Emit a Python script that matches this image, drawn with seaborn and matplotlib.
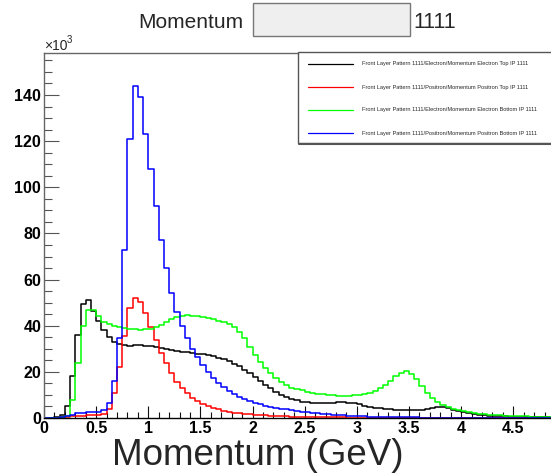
import numpy as np
import pandas as pd
import matplotlib
matplotlib.use("Agg")
import matplotlib.pyplot as plt
import matplotlib.patches as mpatches
from matplotlib.lines import Line2D
from matplotlib.ticker import MultipleLocator, FuncFormatter
import seaborn as sns

# ---------------- data (counts in units of 10^3, bins of 0.05 GeV from 0 to 5) -------------
bin_edges = [round(0.05 * i, 3) for i in range(101)]

electron_top = [
    0, 0, 0.3, 1.3, 5, 18, 36, 49.5, 51, 46.5,
    42, 38, 35, 33, 32, 31.5, 31.3, 31.5, 31.6, 31.4,
    31.1, 30.7, 30.2, 29.7, 29.3, 29.0, 28.7, 28.5, 28.2, 27.9,
    27.6, 27.2, 26.8, 26.2, 25.4, 24.6, 23.6, 22.4, 21.0, 19.5,
    17.8, 16.0, 14.4, 12.8, 11.3, 10.0, 9.0, 8.2, 7.6, 7.1,
    6.8, 6.6, 6.5, 6.4, 6.5, 6.6, 6.8, 6.8, 6.6, 6.3,
    5.9, 5.4, 4.9, 4.5, 4.2, 3.9, 3.7, 3.5, 3.4, 3.3,
    3.3, 3.4, 3.6, 4.0, 4.4, 4.8, 4.7, 4.2, 3.5, 2.9,
    2.4, 2.0, 1.7, 1.4, 1.2, 1.0, 0.9, 0.8, 0.7, 0.6,
    0.5, 0.45, 0.4, 0.35, 0.3, 0.3, 0.25, 0.2, 0.2, 0.15,
]

positron_top = [
    0, 0, 0.1, 0.3, 0.5, 0.7, 0.9, 1.0, 1.1, 1.2,
    1.4, 1.8, 4.0, 10.7, 22, 35.5, 47.5, 52.2, 50.4, 45.4,
    39.3, 33.8, 28, 23.7, 19.4, 15.8, 13.2, 11, 8.8, 7.4,
    6.1, 5.2, 4.3, 3.7, 3.1, 2.7, 2.3, 2.0, 1.8, 1.6,
    1.4, 1.3, 1.15, 1.0, 0.9, 0.8, 0.7, 0.62, 0.55, 0.5,
    0.45, 0.4, 0.37, 0.34, 0.3, 0.28, 0.25, 0.23, 0.21, 0.19,
    0.17, 0.15, 0.14, 0.13, 0.12, 0.11, 0.1, 0.1, 0.09, 0.09,
    0.08, 0.08, 0.07, 0.07, 0.06, 0.06, 0.05, 0.05, 0.05, 0.04,
    0.04, 0.04, 0.03, 0.03, 0.03, 0.03, 0.02, 0.02, 0.02, 0.02,
    0.02, 0.02, 0.02, 0.02, 0.02, 0.02, 0.02, 0.02, 0.02, 0.02,
]

electron_bottom = [
    0, 0, 0, 0.3, 1, 8, 24, 40, 47, 47,
    44, 41.8, 40.8, 39.9, 39.3, 39.0, 38.6, 38.4, 38.2, 38.4,
    38.7, 39.3, 40.3, 41.8, 42.8, 43.9, 44.4, 44.5, 44.4, 44.1,
    43.8, 43.3, 42.8, 42.2, 41.6, 40.8, 39.5, 37.4, 34.5, 30.9,
    27.3, 24.1, 21.5, 19.4, 17.2, 15.5, 14.3, 13.2, 12.5, 12.0,
    11.4, 11.0, 10.6, 10.3, 10.0, 9.8, 9.7, 9.7, 9.7, 9.8,
    10.0, 10.3, 10.8, 11.6, 12.8, 14.3, 16.2, 18.0, 19.6, 20.2,
    19.2, 16.8, 13.8, 11.0, 8.8, 7.0, 5.8, 4.8, 4.0, 3.4,
    2.9, 2.5, 2.1, 1.8, 1.6, 1.4, 1.2, 1.1, 1.0, 0.9,
    0.8, 0.75, 0.7, 0.65, 0.6, 0.55, 0.5, 0.5, 0.45, 0.4,
]

positron_bottom = [
    0, 0, 0.2, 0.5, 0.9, 1.4, 2.0, 2.3, 2.4, 2.5,
    2.8, 3.5, 6.5, 16, 34.5, 73, 121, 144, 139, 123,
    108, 92, 77, 65, 54, 46, 40, 34.5, 30, 26.5,
    23, 20, 17.5, 15.2, 13.4, 11.8, 10.4, 9.2, 8.2, 7.3,
    6.6, 6.0, 5.4, 4.9, 4.5, 4.1, 3.7, 3.4, 3.1, 2.8,
    2.5, 2.2, 2.0, 1.8, 1.6, 1.4, 1.25, 1.1, 1.0, 0.9,
    0.8, 0.7, 0.62, 0.55, 0.5, 0.45, 0.4, 0.36, 0.32, 0.29,
    0.26, 0.23, 0.21, 0.19, 0.17, 0.15, 0.14, 0.13, 0.12, 0.11,
    0.1, 0.09, 0.08, 0.08, 0.07, 0.07, 0.06, 0.06, 0.05, 0.05,
    0.05, 0.04, 0.04, 0.04, 0.03, 0.03, 0.03, 0.03, 0.03, 0.03,
]

series_labels = [
    "Front Layer Pattern 1111/Electron/Momentum Electron Top IP 1111",
    "Front Layer Pattern 1111/Positron/Momentum Positron Top IP 1111",
    "Front Layer Pattern 1111/Electron/Momentum Electron Bottom IP 1111",
    "Front Layer Pattern 1111/Positron/Momentum Positron Bottom IP 1111",
]
series_values = [electron_top, positron_top, electron_bottom, positron_bottom]
series_colors = ["#000000", "#ff0000", "#00ff00", "#0000ff"]

x_ticks = [0, 0.5, 1, 1.5, 2, 2.5, 3, 3.5, 4, 4.5]
y_ticks = [0, 20, 40, 60, 80, 100, 120, 140]

# ---------------- figure ----------------
sns.set_style("ticks")
plt.rcParams["font.family"] = ["Liberation Sans", "DejaVu Sans"]

W, H = 551, 473
fig = plt.figure(figsize=(W / 100, H / 100), dpi=100)
fig.patch.set_facecolor("white")

px_per_gev = 104.3
px_per_k = 2.307
ax_left, ax_bottom_px, ax_top_px = 44, 418, 53
ax = fig.add_axes([ax_left / W, (H - ax_bottom_px) / H,
                   5 * px_per_gev / W, (ax_bottom_px - ax_top_px) / H])
ax.set_facecolor("white")

centers = [(bin_edges[i] + bin_edges[i + 1]) / 2 for i in range(len(bin_edges) - 1)]
for vals, col in zip(series_values, series_colors):
    df = pd.DataFrame({"p": centers, "w": vals})
    sns.histplot(data=df, x="p", weights="w", bins=bin_edges, element="step",
                 fill=False, color=col, linewidth=1.1, ax=ax)

ax.set_xlim(0, 5)
ax.set_ylim(0, (ax_bottom_px - ax_top_px) / px_per_k)
ax.set_xlabel("")
ax.set_ylabel("")

ax.set_xticks(x_ticks)
ax.set_yticks(y_ticks)
ax.xaxis.set_minor_locator(MultipleLocator(0.1))
ax.yaxis.set_minor_locator(MultipleLocator(5))
ax.xaxis.set_major_formatter(FuncFormatter(lambda v, p: f"{v:g}"))
ax.yaxis.set_major_formatter(FuncFormatter(lambda v, p: f"{v:g}"))

ax.tick_params(axis="x", which="major", direction="in", length=8.5, width=0.8,
               colors="#111111", labelsize=11.5, pad=2)
ax.tick_params(axis="x", which="minor", direction="in", length=4.2, width=0.8,
               colors="#111111")
ax.tick_params(axis="y", which="major", direction="in", length=11, width=0.8,
               colors="#555555", labelsize=11.5, pad=2)
ax.tick_params(axis="y", which="minor", direction="in", length=5.5, width=0.8,
               colors="#555555")
for lab in ax.get_xticklabels() + ax.get_yticklabels():
    lab.set_fontweight("bold")
    lab.set_color("black")

ax.spines["left"].set_color("#666666")
ax.spines["top"].set_color("#666666")
ax.spines["bottom"].set_color("#000000")
ax.spines["right"].set_visible(False)
for s in ["left", "top", "bottom"]:
    ax.spines[s].set_linewidth(1.0)

# x10^3 multiplier
fig.text(44 / W, (H - 50.5) / H, "×10", fontsize=10, ha="left", va="baseline")
fig.text(67 / W, (H - 43) / H, "3", fontsize=7, ha="left", va="baseline")

# axis title
fig.text(258 / W, 8 / H, "Momentum (GeV)", fontsize=26.5, ha="center", va="baseline")

# header: title + grey box + number
fig.text(138 / W, (H - 28) / H, "Momentum", fontsize=15, ha="left", va="baseline")
fig.patches.append(mpatches.Rectangle((253 / W, (H - 36) / H), 157 / W, 33 / H,
                                      transform=fig.transFigure, facecolor="#efefef",
                                      edgecolor="#777777", linewidth=1.0))
fig.text(413 / W, (H - 28) / H, "1111", fontsize=15.5, ha="left", va="baseline")

# legend box (ROOT style, with shadow)
lx0, ly_top, ly_bot = 298, 52, 143
fig.patches.append(mpatches.Rectangle((lx0 / W, (H - ly_bot) / H), (W + 5 - lx0) / W,
                                      (ly_bot - ly_top) / H, transform=fig.transFigure,
                                      facecolor="white", edgecolor="#555555",
                                      linewidth=1.0, zorder=5))
fig.lines.append(Line2D([(lx0 + 1) / W, 1.01], [(H - ly_bot - 1) / H] * 2,
                        transform=fig.transFigure, color="#555555", linewidth=1.5,
                        zorder=6))
entry_y = [64, 87, 110, 133]
for yy, lab, col in zip(entry_y, series_labels, series_colors):
    fig.lines.append(Line2D([308 / W, 353 / W], [(H - yy) / H] * 2,
                            transform=fig.transFigure, color=col, linewidth=0.9,
                            zorder=7))
    fig.text(362 / W, (H - yy) / H, lab, fontsize=4.1, ha="left", va="center",
             zorder=7)

fig.savefig("out.png", dpi=100, facecolor="white")
